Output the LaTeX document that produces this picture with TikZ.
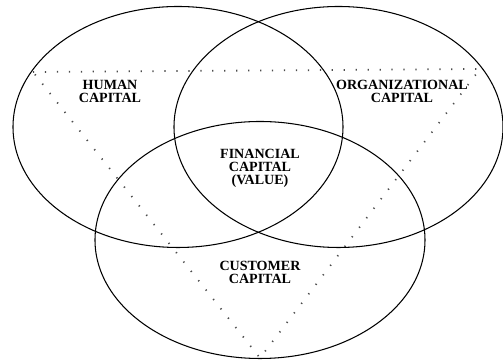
\documentclass[tikz,border=0pt]{standalone}
\usepackage{fontspec}
\setmainfont{Liberation Serif}
\usepackage{tikz}

\begin{document}
\begin{tikzpicture}[
    krag/.style={line width=0.6pt},
    kropki/.style={gray!60!black, line width=1pt, dash pattern=on 0.7pt off 6.1pt},
    etykieta/.style={align=center, font=\fontsize{8}{7.4}\selectfont\bfseries, inner sep=1pt}
]

\useasboundingbox (0,0) rectangle (10.06,-7.2);

% ============================================
% 1. TROJKAT (kropkowany)
% ============================================
\coordinate (A) at (0.66,-1.44);
\coordinate (B) at (9.6,-1.38);
\coordinate (C) at (5.2,-7.16);
\draw[kropki] (A) -- (B) -- (C) -- cycle;

% ============================================
% 2. ELIPSY
% ============================================
\draw[krag] (3.56,-2.54) ellipse[x radius=3.3, y radius=2.41];
\draw[krag] (6.77,-2.54) ellipse[x radius=3.29, y radius=2.41];
\draw[krag] (5.2,-4.8) ellipse[x radius=3.3, y radius=2.37];

% ============================================
% 3. ETYKIETY
% ============================================
\node[etykieta] (human) at (2.2,-1.82) {HUMAN\\CAPITAL};
\node[etykieta] (organ) at (8.04,-1.82) {ORGANIZATIONAL\\CAPITAL};
\node[etykieta] (finan) at (5.2,-3.37) {FINANCIAL\\CAPITAL\\(VALUE)};
\node[etykieta] (custo) at (5.2,-5.44) {CUSTOMER\\CAPITAL};

\end{tikzpicture}
\end{document}
